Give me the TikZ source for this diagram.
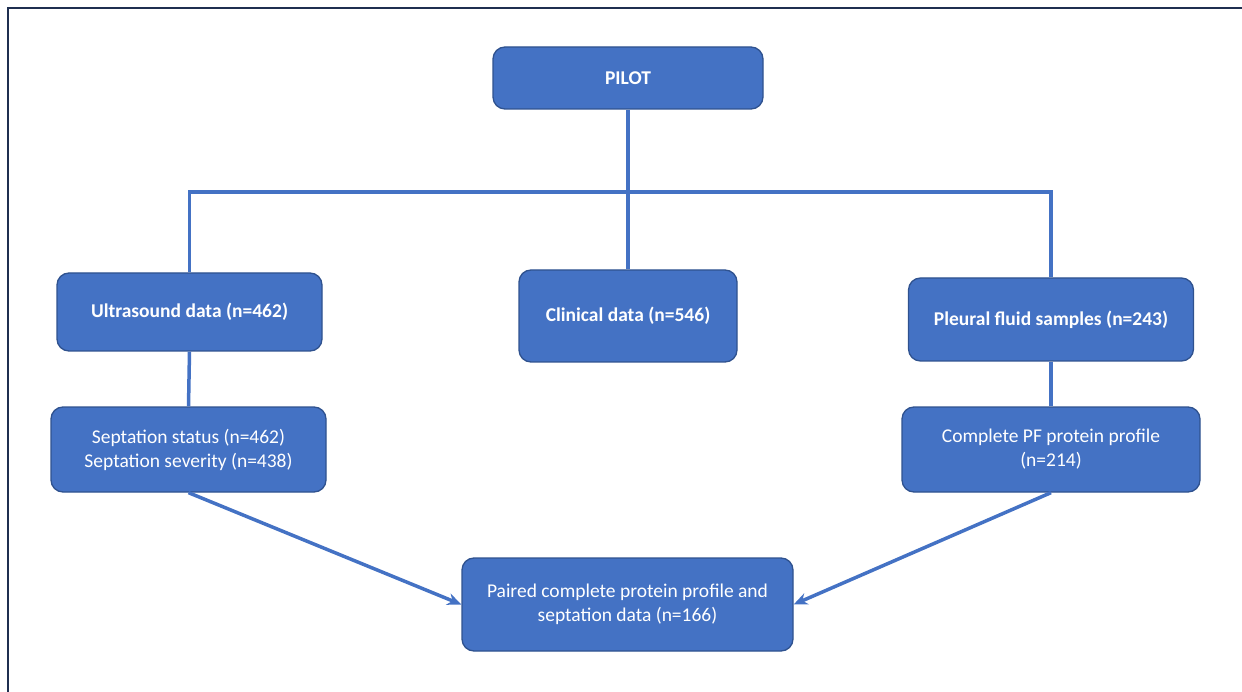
\documentclass[tikz,border=0pt]{standalone}
\usepackage{fontspec}
\setmainfont{Carlito}
\usetikzlibrary{arrows.meta}
\definecolor{boxfill}{HTML}{4472C4}
\definecolor{boxline}{HTML}{2F528F}
\definecolor{framec}{HTML}{1F2F50}
\tikzset{
  fbox/.style={draw=boxline, line width=1.3pt, fill=boxfill, rounded corners=12pt,
    text=white, align=center, inner sep=0pt, font=\fontsize{19.5}{24}\selectfont},
  bbox/.style={fbox, font=\fontsize{19.5}{24}\selectfont\bfseries},
  conn/.style={draw=boxfill, line width=3.5pt},
  arr/.style={conn, -{Stealth[length=14pt,width=12pt]}}
}
\begin{document}
\begin{tikzpicture}[x=1pt,y=-1pt]
\useasboundingbox (0,0) rectangle (1242,692);
\draw[framec, line width=2.5pt] (8,692) -- (8,8) -- (1242,8);
\node[bbox, minimum width=270pt, minimum height=62pt] (pilot) at (628,78) {PILOT};
\node[bbox, minimum width=265pt, minimum height=78pt] (us) at (189.5,312) {Ultrasound data (n=462)};
\node[bbox, minimum width=218pt, minimum height=92pt] (clin) at (628,316) {Clinical data (n=546)};
\node[bbox, minimum width=285pt, minimum height=83pt] (pl) at (1051,319.5) {Pleural fluid samples (n=243)};
\node[fbox, minimum width=275pt, minimum height=85pt] (sep) at (188.5,449.5) {Septation status (n=462)\\Septation severity (n=438)};
\node[fbox, minimum width=298pt, minimum height=85pt] (pf) at (1051,449.5) {Complete PF protein profile\\(n=214)};
\node[fbox, minimum width=331pt, minimum height=93pt] (paired) at (627.5,604.5) {Paired complete protein profile and\\septation data (n=166)};
\coordinate (bar) at (628,192);
\draw[conn] (pilot.south) -- (clin.north);
\draw[conn] (us.north) -- (us.north |- bar) -- (pl.north |- bar) -- (pl.north);
\draw[conn] (us.south) -- (sep.north);
\draw[conn] (pl.south) -- (pf.north);
\draw[arr] (sep.south) -- (paired.west);
\draw[arr] (pf.south) -- (paired.east);
\end{tikzpicture}
\end{document}
